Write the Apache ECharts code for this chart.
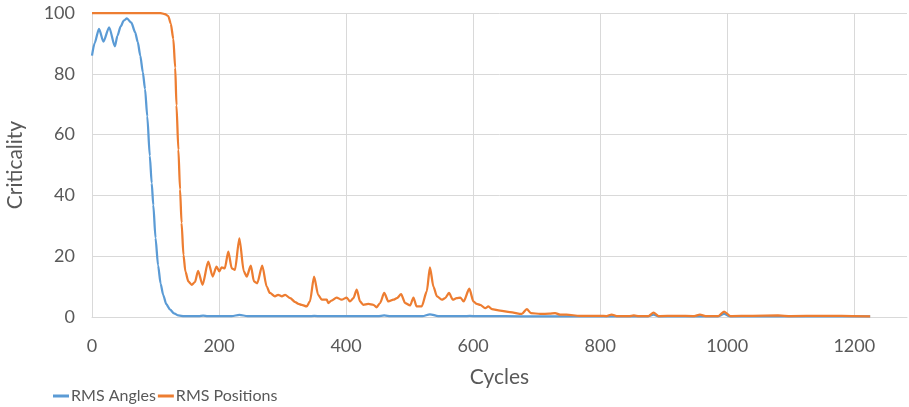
<!DOCTYPE html>
<html>
<head>
<meta charset="utf-8">
<script src="https://cdn.jsdelivr.net/npm/echarts@6/dist/echarts.min.js"></script>
<style>
html,body{margin:0;padding:0;background:#fff;}
#chart{width:909px;height:407px;}
</style>
</head>
<body>
<div id="chart"></div>
<script>
var xTicks = [0, 200, 400, 600, 800, 1000, 1200];
var yTicks = [0, 20, 40, 60, 80, 100];

var anglesX = [0, 4, 11, 18, 27, 36, 40, 45, 50, 55, 62, 68, 72, 76, 80, 83.5, 87, 91, 94, 96.5, 100, 104, 108, 112, 117, 123, 129, 136, 145, 160, 168, 175, 182, 190, 220, 232, 245, 300, 340, 350, 360, 400, 450, 460, 470, 500, 520, 532, 545, 585, 595, 605, 650, 700, 800, 875, 884, 892, 985, 995, 1005, 1100, 1225];
var anglesY = [86, 90, 94.8, 90.6, 95.3, 89, 92.5, 95.5, 97.5, 98.2, 96.8, 93.6, 90.5, 86, 80.5, 75, 66, 53, 44, 36.8, 26, 17, 11, 7.3, 4.2, 2.4, 1.2, 0.5, 0.3, 0.25, 0.25, 0.45, 0.25, 0.25, 0.3, 0.7, 0.3, 0.25, 0.25, 0.4, 0.25, 0.25, 0.25, 0.5, 0.25, 0.25, 0.25, 0.9, 0.3, 0.25, 0.4, 0.25, 0.25, 0.2, 0.2, 0.2, 0.8, 0.2, 0.2, 1.0, 0.2, 0.2, 0.2];

var positionsX = [0, 50, 105, 110, 115, 120, 124, 128, 131, 133, 136, 138.6, 141, 144, 147, 151.7, 157, 162, 167, 174, 183, 190, 196, 200.5, 204, 209, 214.6, 220, 225, 232, 239, 243.6, 250, 255, 260, 268, 275, 280, 288, 293, 299, 304, 312, 320, 325, 330, 338, 343, 349.6, 356, 361.7, 369.6, 372, 377, 385, 393, 401, 406, 411.5, 416.8, 422, 427, 435, 443, 448, 453.5, 460, 466.6, 474.5, 480, 486.6, 493, 500.8, 506, 511, 519, 527, 532, 537.5, 543, 550.7, 556, 562, 568, 574, 580, 585, 594, 600.5, 605.8, 611, 619, 624, 629.5, 642.5, 658, 676.6, 684.5, 691, 705.5, 720, 729, 737, 747, 768, 800, 810, 818, 826, 845, 853, 861, 876, 884, 892, 920, 948, 957, 966, 986, 995, 1005, 1040, 1080, 1100, 1150, 1180, 1225];
var positionsY = [100, 100, 100, 99.9, 99.6, 99, 96.5, 91.5, 82, 69.6, 55, 42, 31, 20.4, 15, 11.7, 10.6, 11.5, 15.2, 10.6, 18.2, 13.3, 16.6, 15, 16.3, 16, 21.5, 16, 15.5, 25.9, 15, 13.3, 16.9, 11.7, 11.1, 16.9, 10, 7.9, 6.8, 7.3, 6.8, 7.3, 6.2, 4.9, 4.3, 4, 3.5, 5.1, 13.3, 7.3, 5.7, 5.7, 4.6, 5.4, 6.4, 5.7, 6.4, 5.1, 6.2, 9, 5.1, 4, 4.3, 4, 3.2, 4.6, 7.9, 5.1, 5.7, 6.2, 7.5, 4.6, 3.8, 6.4, 3.5, 3.5, 8.4, 16.3, 10, 6.8, 5.7, 6.2, 7.9, 5.7, 6.2, 6.4, 5.1, 9.3, 5.1, 4.3, 4, 2.9, 3.5, 2.6, 2.1, 1.6, 1, 2.6, 1.3, 1, 1.1, 1.3, 0.75, 0.75, 0.4, 0.4, 0.3, 0.8, 0.3, 0.3, 0.5, 0.3, 0.3, 1.4, 0.3, 0.4, 0.3, 0.8, 0.3, 0.3, 1.8, 0.3, 0.4, 0.5, 0.3, 0.4, 0.4, 0.2];

function pairs(xs, ys) { return xs.map(function (x, i) { return [x, ys[i]]; }); }

var chart = echarts.init(document.getElementById('chart'));
var font = 'Lato, "Open Sans", sans-serif';
chart.setOption({
  animation: false,
  backgroundColor: '#ffffff',
  textStyle: { fontFamily: font },
  grid: { left: 92, right: 2, top: 13, bottom: 90, containLabel: false, outerBoundsMode: 'none' },
  legend: {
    left: 48, top: 383,
    itemWidth: 16, itemHeight: 3, itemGap: 2,
    icon: 'rect',
    textStyle: { color: '#595959', fontSize: 16, fontFamily: font, padding: [0, 0, 0, -3] },
    data: ['RMS Angles', 'RMS Positions']
  },
  xAxis: {
    type: 'value', min: 0, max: 1283, interval: 200,
    name: 'Cycles', nameLocation: 'middle', nameGap: 50,
    nameTextStyle: { color: '#595959', fontSize: 21, fontFamily: font },
    axisLine: { show: true, lineStyle: { color: '#d9d9d9', width: 1 } },
    axisTick: { show: false },
    axisLabel: { color: '#595959', fontSize: 18, margin: 20, showMaxLabel: false,
      formatter: function (v) { return xTicks.indexOf(v) >= 0 ? String(v) : ''; } },
    splitLine: { show: true, showMaxLine: false, lineStyle: { color: '#d9d9d9', width: 1 } }
  },
  yAxis: {
    type: 'value', min: 0, max: 100, interval: 20,
    name: 'Criticality', nameLocation: 'middle', nameGap: 66,
    nameTextStyle: { color: '#595959', fontSize: 21, fontFamily: font },
    axisLine: { show: false },
    axisTick: { show: false },
    axisLabel: { color: '#595959', fontSize: 18, margin: 17,
      formatter: function (v) { return yTicks.indexOf(v) >= 0 ? String(v) : ''; } },
    splitLine: { show: true, lineStyle: { color: '#d9d9d9', width: 1 } }
  },
  series: [
    { name: 'RMS Angles', type: 'line', data: pairs(anglesX, anglesY), showSymbol: false, symbol: 'none',
      smooth: 0.25, smoothMonotone: 'x',
      lineStyle: { color: '#5B9BD5', width: 2.25 }, itemStyle: { color: '#5B9BD5' } },
    { name: 'RMS Positions', type: 'line', data: pairs(positionsX, positionsY), showSymbol: false, symbol: 'none',
      smooth: 0.25, smoothMonotone: 'x',
      lineStyle: { color: '#ED7D31', width: 2.25 }, itemStyle: { color: '#ED7D31' } }
  ]
});
</script>
</body>
</html>
